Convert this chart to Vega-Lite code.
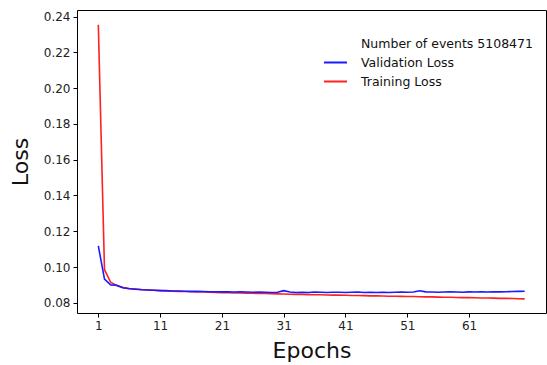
{
  "$schema": "https://vega.github.io/schema/vega-lite/v6.json",
  "autosize": "none",
  "width": 469,
  "height": 303,
  "padding": {"left": 77, "top": 10, "right": 1, "bottom": 52},
  "background": "white",
  "config": {
    "font": "DejaVu Sans",
    "view": {"stroke": "black", "strokeWidth": 1},
    "axis": {"grid": false, "domain": false, "tickColor": "black", "tickSize": 4, "labelColor": "#222", "labelFontSize": 12, "labelFont": "DejaVu Sans", "titleFont": "DejaVu Sans", "titleFontSize": 22, "titleFontWeight": "normal", "titleColor": "#111", "labelPadding": 3}
  },
  "datasets": {
    "loss": [
      {"epoch": 1, "series": "Training Loss", "loss": 0.2355},
      {"epoch": 2, "series": "Training Loss", "loss": 0.0985},
      {"epoch": 3, "series": "Training Loss", "loss": 0.0915},
      {"epoch": 4, "series": "Training Loss", "loss": 0.0895},
      {"epoch": 5, "series": "Training Loss", "loss": 0.0885},
      {"epoch": 6, "series": "Training Loss", "loss": 0.0880},
      {"epoch": 7, "series": "Training Loss", "loss": 0.0877},
      {"epoch": 8, "series": "Training Loss", "loss": 0.0874},
      {"epoch": 9, "series": "Training Loss", "loss": 0.0872},
      {"epoch": 10, "series": "Training Loss", "loss": 0.0870},
      {"epoch": 11, "series": "Training Loss", "loss": 0.0868},
      {"epoch": 12, "series": "Training Loss", "loss": 0.0866},
      {"epoch": 13, "series": "Training Loss", "loss": 0.0865},
      {"epoch": 14, "series": "Training Loss", "loss": 0.0864},
      {"epoch": 15, "series": "Training Loss", "loss": 0.0863},
      {"epoch": 16, "series": "Training Loss", "loss": 0.0862},
      {"epoch": 17, "series": "Training Loss", "loss": 0.0861},
      {"epoch": 18, "series": "Training Loss", "loss": 0.0860},
      {"epoch": 19, "series": "Training Loss", "loss": 0.0859},
      {"epoch": 20, "series": "Training Loss", "loss": 0.0858},
      {"epoch": 21, "series": "Training Loss", "loss": 0.0857},
      {"epoch": 22, "series": "Training Loss", "loss": 0.0856},
      {"epoch": 23, "series": "Training Loss", "loss": 0.0855},
      {"epoch": 24, "series": "Training Loss", "loss": 0.0855},
      {"epoch": 25, "series": "Training Loss", "loss": 0.0854},
      {"epoch": 26, "series": "Training Loss", "loss": 0.0853},
      {"epoch": 27, "series": "Training Loss", "loss": 0.0852},
      {"epoch": 28, "series": "Training Loss", "loss": 0.0852},
      {"epoch": 29, "series": "Training Loss", "loss": 0.0851},
      {"epoch": 30, "series": "Training Loss", "loss": 0.0850},
      {"epoch": 31, "series": "Training Loss", "loss": 0.0849},
      {"epoch": 32, "series": "Training Loss", "loss": 0.0848},
      {"epoch": 33, "series": "Training Loss", "loss": 0.0847},
      {"epoch": 34, "series": "Training Loss", "loss": 0.0847},
      {"epoch": 35, "series": "Training Loss", "loss": 0.0846},
      {"epoch": 36, "series": "Training Loss", "loss": 0.0845},
      {"epoch": 37, "series": "Training Loss", "loss": 0.0845},
      {"epoch": 38, "series": "Training Loss", "loss": 0.0844},
      {"epoch": 39, "series": "Training Loss", "loss": 0.0843},
      {"epoch": 40, "series": "Training Loss", "loss": 0.0843},
      {"epoch": 41, "series": "Training Loss", "loss": 0.0842},
      {"epoch": 42, "series": "Training Loss", "loss": 0.0841},
      {"epoch": 43, "series": "Training Loss", "loss": 0.0841},
      {"epoch": 44, "series": "Training Loss", "loss": 0.0840},
      {"epoch": 45, "series": "Training Loss", "loss": 0.0839},
      {"epoch": 46, "series": "Training Loss", "loss": 0.0839},
      {"epoch": 47, "series": "Training Loss", "loss": 0.0838},
      {"epoch": 48, "series": "Training Loss", "loss": 0.0837},
      {"epoch": 49, "series": "Training Loss", "loss": 0.0837},
      {"epoch": 50, "series": "Training Loss", "loss": 0.0836},
      {"epoch": 51, "series": "Training Loss", "loss": 0.0835},
      {"epoch": 52, "series": "Training Loss", "loss": 0.0835},
      {"epoch": 53, "series": "Training Loss", "loss": 0.0834},
      {"epoch": 54, "series": "Training Loss", "loss": 0.0833},
      {"epoch": 55, "series": "Training Loss", "loss": 0.0833},
      {"epoch": 56, "series": "Training Loss", "loss": 0.0832},
      {"epoch": 57, "series": "Training Loss", "loss": 0.0831},
      {"epoch": 58, "series": "Training Loss", "loss": 0.0831},
      {"epoch": 59, "series": "Training Loss", "loss": 0.0830},
      {"epoch": 60, "series": "Training Loss", "loss": 0.0829},
      {"epoch": 61, "series": "Training Loss", "loss": 0.0829},
      {"epoch": 62, "series": "Training Loss", "loss": 0.0828},
      {"epoch": 63, "series": "Training Loss", "loss": 0.0827},
      {"epoch": 64, "series": "Training Loss", "loss": 0.0827},
      {"epoch": 65, "series": "Training Loss", "loss": 0.0826},
      {"epoch": 66, "series": "Training Loss", "loss": 0.0825},
      {"epoch": 67, "series": "Training Loss", "loss": 0.0825},
      {"epoch": 68, "series": "Training Loss", "loss": 0.0824},
      {"epoch": 69, "series": "Training Loss", "loss": 0.0823},
      {"epoch": 70, "series": "Training Loss", "loss": 0.0822},
      {"epoch": 1, "series": "Validation Loss", "loss": 0.1118},
      {"epoch": 2, "series": "Validation Loss", "loss": 0.0932},
      {"epoch": 3, "series": "Validation Loss", "loss": 0.0900},
      {"epoch": 4, "series": "Validation Loss", "loss": 0.0898},
      {"epoch": 5, "series": "Validation Loss", "loss": 0.0884},
      {"epoch": 6, "series": "Validation Loss", "loss": 0.0879},
      {"epoch": 7, "series": "Validation Loss", "loss": 0.0876},
      {"epoch": 8, "series": "Validation Loss", "loss": 0.0873},
      {"epoch": 9, "series": "Validation Loss", "loss": 0.0872},
      {"epoch": 10, "series": "Validation Loss", "loss": 0.0870},
      {"epoch": 11, "series": "Validation Loss", "loss": 0.0868},
      {"epoch": 12, "series": "Validation Loss", "loss": 0.0868},
      {"epoch": 13, "series": "Validation Loss", "loss": 0.0866},
      {"epoch": 14, "series": "Validation Loss", "loss": 0.0866},
      {"epoch": 15, "series": "Validation Loss", "loss": 0.0865},
      {"epoch": 16, "series": "Validation Loss", "loss": 0.0864},
      {"epoch": 17, "series": "Validation Loss", "loss": 0.0864},
      {"epoch": 18, "series": "Validation Loss", "loss": 0.0863},
      {"epoch": 19, "series": "Validation Loss", "loss": 0.0862},
      {"epoch": 20, "series": "Validation Loss", "loss": 0.0862},
      {"epoch": 21, "series": "Validation Loss", "loss": 0.0861},
      {"epoch": 22, "series": "Validation Loss", "loss": 0.0862},
      {"epoch": 23, "series": "Validation Loss", "loss": 0.0860},
      {"epoch": 24, "series": "Validation Loss", "loss": 0.0861},
      {"epoch": 25, "series": "Validation Loss", "loss": 0.0860},
      {"epoch": 26, "series": "Validation Loss", "loss": 0.0859},
      {"epoch": 27, "series": "Validation Loss", "loss": 0.0860},
      {"epoch": 28, "series": "Validation Loss", "loss": 0.0859},
      {"epoch": 29, "series": "Validation Loss", "loss": 0.0858},
      {"epoch": 30, "series": "Validation Loss", "loss": 0.0859},
      {"epoch": 31, "series": "Validation Loss", "loss": 0.0868},
      {"epoch": 32, "series": "Validation Loss", "loss": 0.0860},
      {"epoch": 33, "series": "Validation Loss", "loss": 0.0858},
      {"epoch": 34, "series": "Validation Loss", "loss": 0.0859},
      {"epoch": 35, "series": "Validation Loss", "loss": 0.0858},
      {"epoch": 36, "series": "Validation Loss", "loss": 0.0860},
      {"epoch": 37, "series": "Validation Loss", "loss": 0.0859},
      {"epoch": 38, "series": "Validation Loss", "loss": 0.0858},
      {"epoch": 39, "series": "Validation Loss", "loss": 0.0859},
      {"epoch": 40, "series": "Validation Loss", "loss": 0.0859},
      {"epoch": 41, "series": "Validation Loss", "loss": 0.0858},
      {"epoch": 42, "series": "Validation Loss", "loss": 0.0859},
      {"epoch": 43, "series": "Validation Loss", "loss": 0.0860},
      {"epoch": 44, "series": "Validation Loss", "loss": 0.0858},
      {"epoch": 45, "series": "Validation Loss", "loss": 0.0859},
      {"epoch": 46, "series": "Validation Loss", "loss": 0.0858},
      {"epoch": 47, "series": "Validation Loss", "loss": 0.0859},
      {"epoch": 48, "series": "Validation Loss", "loss": 0.0858},
      {"epoch": 49, "series": "Validation Loss", "loss": 0.0859},
      {"epoch": 50, "series": "Validation Loss", "loss": 0.0860},
      {"epoch": 51, "series": "Validation Loss", "loss": 0.0859},
      {"epoch": 52, "series": "Validation Loss", "loss": 0.0860},
      {"epoch": 53, "series": "Validation Loss", "loss": 0.0867},
      {"epoch": 54, "series": "Validation Loss", "loss": 0.0861},
      {"epoch": 55, "series": "Validation Loss", "loss": 0.0860},
      {"epoch": 56, "series": "Validation Loss", "loss": 0.0859},
      {"epoch": 57, "series": "Validation Loss", "loss": 0.0860},
      {"epoch": 58, "series": "Validation Loss", "loss": 0.0861},
      {"epoch": 59, "series": "Validation Loss", "loss": 0.0860},
      {"epoch": 60, "series": "Validation Loss", "loss": 0.0859},
      {"epoch": 61, "series": "Validation Loss", "loss": 0.0861},
      {"epoch": 62, "series": "Validation Loss", "loss": 0.0860},
      {"epoch": 63, "series": "Validation Loss", "loss": 0.0861},
      {"epoch": 64, "series": "Validation Loss", "loss": 0.0860},
      {"epoch": 65, "series": "Validation Loss", "loss": 0.0862},
      {"epoch": 66, "series": "Validation Loss", "loss": 0.0861},
      {"epoch": 67, "series": "Validation Loss", "loss": 0.0862},
      {"epoch": 68, "series": "Validation Loss", "loss": 0.0863},
      {"epoch": 69, "series": "Validation Loss", "loss": 0.0864},
      {"epoch": 70, "series": "Validation Loss", "loss": 0.0865}
    ]
  },
  "data": {"name": "loss"},
  "mark": {"type": "line", "strokeWidth": 1.6, "clip": true},
  "encoding": {
    "x": {
      "field": "epoch", "type": "quantitative",
      "scale": {"domain": [-2.45, 73.45], "nice": false, "zero": false},
      "axis": {"values": [1, 11, 21, 31, 41, 51, 61], "title": "Epochs", "titlePadding": 9}
    },
    "y": {
      "field": "loss", "type": "quantitative",
      "scale": {"domain": [0.0743, 0.2437], "nice": false, "zero": false},
      "axis": {"values": [0.08, 0.10, 0.12, 0.14, 0.16, 0.18, 0.20, 0.22, 0.24], "format": ".2f", "title": "Loss", "titlePadding": 11}
    },
    "color": {
      "field": "series", "type": "nominal",
      "scale": {"domain": ["Number of events 5108471", "Validation Loss", "Training Loss"], "range": ["transparent", "#1a1aff", "#ff2020"]},
      "legend": {
        "title": null, "orient": "none", "legendX": 246, "legendY": 21,
        "symbolType": "stroke", "symbolSize": 529, "symbolStrokeWidth": 2,
        "labelFontSize": 12.5, "labelFont": "DejaVu Sans", "labelColor": "#111", "labelOffset": 13,
        "labelLimit": 0, "rowPadding": -3
      }
    },
    "order": {"field": "epoch", "type": "quantitative"}
  }
}
